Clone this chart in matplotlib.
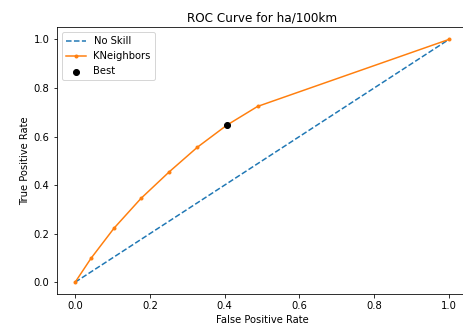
import matplotlib
matplotlib.use("Agg")
import matplotlib.pyplot as plt

fpr = [0.0, 0.042, 0.104, 0.176, 0.252, 0.327, 0.406, 0.488, 1.0]
tpr = [0.0, 0.0975, 0.2225, 0.345, 0.455, 0.556, 0.647, 0.724, 1.0]
no_skill = [0, 1]
best_x = [0.406]
best_y = [0.647]

plt.rcParams['axes.spines.top'] = True
plt.rcParams['axes.spines.right'] = True

W, H = 463, 334
dpi = 72
fig = plt.figure(figsize=(W / dpi, H / dpi), dpi=dpi)
ax = fig.add_axes([56.5 / W, (H - 294.3) / H, (467.6 - 56.5) / W, (294.3 - 27.3) / H])
for s in ax.spines.values():
    s.set_visible(True)
    s.set_color('black')
ax.plot(no_skill, no_skill, linestyle='--', color='#1f77b4', label='No Skill')
ax.plot(fpr, tpr, marker='.', color='#ff7f0e', label='KNeighbors')
ax.scatter(best_x, best_y, marker='o', color='black', label='Best', zorder=3)
ax.set_xlim(-0.05, 1.05)
ax.set_ylim(-0.05, 1.05)
ax.set_xlabel('False Positive Rate')
ax.set_ylabel('True Positive Rate')
ax.set_title('ROC Curve for ha/100km')
ax.legend(loc='upper left')
fig.savefig('out.png', dpi=dpi)
